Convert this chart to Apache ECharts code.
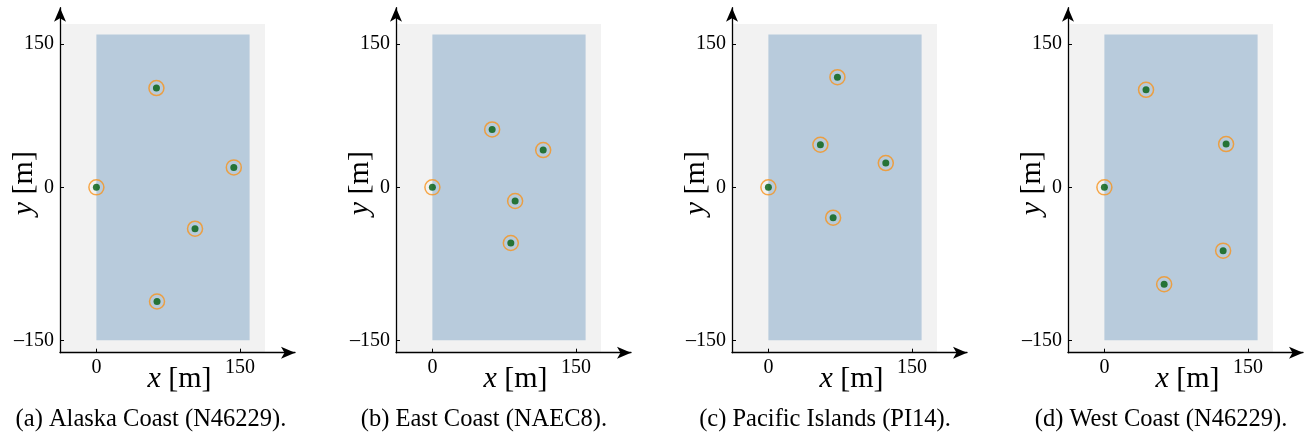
<!DOCTYPE html>
<html>
<head>
<meta charset="utf-8">
<script src="https://cdn.jsdelivr.net/npm/echarts@6/dist/echarts.min.js"></script>
<style>
  html, body { margin: 0; padding: 0; background: #fff; }
  #chart { width: 1308px; height: 438px; }
</style>
</head>
<body>
<div id="chart"></div>
<script>
// panel captions
const captions = [
  '(a) Alaska Coast (N46229).',
  '(b) East Coast (NAEC8).',
  '(c) Pacific Islands (PI14).',
  '(d) West Coast (N46229).'
]

// node positions [x, y] in metres, one list per panel
const alaskaNodes = [[0, 0], [62.7, 103.9], [143.5, 20.9], [103, -43.2], [63.3, -119.4]]
const eastNodes = [[0, 0], [62.4, 60.6], [115.7, 39.0], [86.4, -14.3], [81.9, -58.2]]
const pacificNodes = [[0, 0], [72.1, 115.3], [54.3, 44.6], [122.6, 25.4], [67.6, -31.7]]
const westNodes = [[0, 0], [43.5, 102.1], [127.1, 45.3], [124.0, -66.2], [62.4, -101.4]]
const panelNodes = [alaskaNodes, eastNodes, pacificNodes, westNodes]

// background regions [x0, y0, x1, y1]
const plotArea = [-38, -173, 176, 171]
const seaArea = [0, -160, 160, 160]

// ticks as printed on the figure
const xTickValues = [0, 150]
const xTickLabels = ['0', '150']
const yTickValues = [-160, 0, 150]
const yTickLabels = ['\u2013150', '0', '150']

const xMin = -38, xMax = 207.4
const yMin = -173, yMax = 188

const font = 'Liberation Serif'
const panelStep = 336
const captionCenters = [151, 484, 825, 1161]

const chart = echarts.init(document.getElementById('chart'))

function rectItem(params, api) {
  const p0 = api.coord([api.value(0), api.value(3)])
  const p1 = api.coord([api.value(2), api.value(1)])
  return {
    type: 'rect',
    shape: { x: p0[0], y: p0[1], width: p1[0] - p0[0], height: p1[1] - p0[1] },
    style: { fill: api.visual('color') },
  }
}

const rich = { i: { fontStyle: 'italic', fontFamily: font, fontSize: 30 } }

const grid = [], xAxis = [], yAxis = [], series = [], title = []
panelNodes.forEach((nodes, i) => {
  grid.push({ left: 60 + panelStep * i, top: 7.7, width: 235, height: 345, outerBoundsMode: 'none', containLabel: false })
  xAxis.push({
    gridIndex: i, type: 'value', min: xMin, max: xMax, z: 10,
    splitLine: { show: false },
    axisLine: { onZero: false, lineStyle: { color: '#000', width: 1.3 }, symbol: ['none', 'arrow'], symbolSize: [9, 14] },
    axisTick: { inside: true, length: 4, customValues: xTickValues, lineStyle: { color: '#000', width: 1 } },
    axisLabel: {
      customValues: xTickValues, margin: 5, color: '#000', fontFamily: font, fontSize: 20,
      formatter: v => xTickLabels[xTickValues.indexOf(v)],
    },
    name: '{i|x} [m]', nameLocation: 'middle', nameGap: 11, nameMoveOverlap: false,
    nameTextStyle: { color: '#000', fontFamily: font, fontSize: 30, padding: [0, 0, 0, 4], rich },
  })
  yAxis.push({
    gridIndex: i, type: 'value', min: yMin, max: yMax, z: 10,
    splitLine: { show: false },
    axisLine: { onZero: false, lineStyle: { color: '#000', width: 1.3 }, symbol: ['none', 'arrow'], symbolSize: [9, 14] },
    axisTick: { inside: true, length: 4, customValues: yTickValues, lineStyle: { color: '#000', width: 1 } },
    axisLabel: {
      customValues: yTickValues, margin: 6, color: '#000', fontFamily: font, fontSize: 20,
      formatter: v => yTickLabels[yTickValues.indexOf(v)],
    },
    name: '{i|y} [m]', nameLocation: 'middle', nameGap: 21, nameRotate: 90, nameMoveOverlap: false,
    nameTextStyle: { color: '#000', fontFamily: font, fontSize: 30, padding: [0, 6, 0, 0], rich },
  })
  series.push({
    type: 'custom', xAxisIndex: i, yAxisIndex: i, silent: true, z: 1,
    itemStyle: { color: '#f2f2f2' }, renderItem: rectItem,
    encode: { x: [0, 2], y: [1, 3] }, data: [plotArea],
  })
  series.push({
    type: 'custom', xAxisIndex: i, yAxisIndex: i, silent: true, z: 2,
    itemStyle: { color: '#b8cbdc' }, renderItem: rectItem,
    encode: { x: [0, 2], y: [1, 3] }, data: [seaArea],
  })
  series.push({
    type: 'scatter', xAxisIndex: i, yAxisIndex: i, z: 3, symbolSize: 15,
    itemStyle: { color: 'rgba(0,0,0,0)', borderColor: '#f7941d', borderWidth: 1.5 },
    data: nodes,
  })
  series.push({
    type: 'scatter', xAxisIndex: i, yAxisIndex: i, z: 4, symbolSize: 7,
    itemStyle: { color: '#005c0c' },
    data: nodes,
  })
  title.push({
    text: captions[i], left: captionCenters[i], top: 407, textAlign: 'center', padding: 0,
    textStyle: { color: '#000', fontFamily: font, fontSize: 24.5, fontWeight: 'normal' },
  })
})

chart.setOption({ animation: false, title, grid, xAxis, yAxis, series })
</script>
</body>
</html>
